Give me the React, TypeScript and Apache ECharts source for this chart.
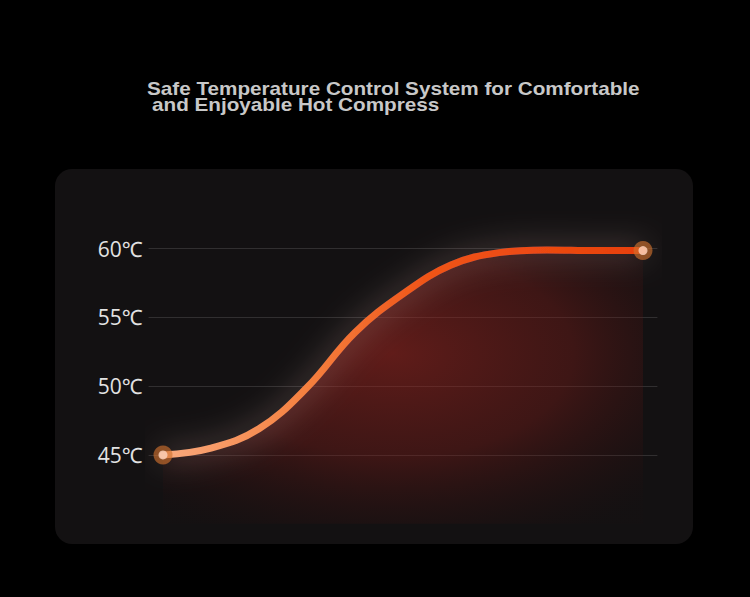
import React, { useEffect, useRef } from "react";
import * as echarts from "echarts";

const titleLines = [
  "Safe Temperature Control System for Comfortable",
  "and Enjoyable Hot Compress",
];
const timePoints = [0, 1, 2, 3, 4, 5, 6, 7, 8, 9, 10];
const temperatures = [45, 45.5, 46.9, 49.9, 53.9, 56.7, 58.8, 59.7, 59.9, 59.85, 59.85];
const yTicks = [45, 50, 55, 60];

export default function App() {
  const ref = useRef<HTMLDivElement>(null);
  useEffect(() => {
    if (!ref.current) return;
    const chart = echarts.init(ref.current, null, { renderer: "svg" });
    const lineData = timePoints.map((t, i) => [t, temperatures[i]]);
    const last = timePoints.length - 1;
    const ends = [
      [timePoints[0], temperatures[0]],
      [timePoints[last], temperatures[last]],
    ];
    chart.setOption({
      animation: false,
      backgroundColor: "#000000",
      graphic: [
        {
          type: "rect",
          shape: { x: 55, y: 169, width: 638, height: 375, r: 17 },
          style: { fill: "#131112" },
          z: -10,
          silent: true,
        },
        {
          type: "text",
          x: 147,
          y: 79.5,
          scaleX: 1.15,
          style: {
            text: titleLines[0],
            fill: "#c8c8c8",
            font: "bold 18px 'Liberation Sans', Arial, sans-serif",
            verticalAlign: "top",
          },
        },
        {
          type: "text",
          x: 152,
          y: 95,
          scaleX: 1.15,
          style: {
            text: titleLines[1],
            fill: "#c8c8c8",
            font: "bold 18px 'Liberation Sans', Arial, sans-serif",
            verticalAlign: "top",
          },
        },
      ],
      grid: { left: 148.6, right: 92.6, top: 248.5, bottom: 73.2 },
      xAxis: {
        type: "value",
        min: -0.3,
        max: 10.3,
        show: false,
      },
      yAxis: {
        type: "value",
        min: 40,
        max: 60,
        interval: 5,
        axisLine: { show: false },
        axisTick: { show: false },
        axisLabel: {
          showMinLabel: false,
          margin: 6,
          color: "#e2e2e2",
          fontSize: 21,
          fontFamily: "'Open Sans', 'Noto Sans', sans-serif",
          formatter: (v: number) => (yTicks.includes(v) ? v + "℃" : ""),
        },
        splitLine: {
          showMinLine: false,
          lineStyle: { color: "rgba(255,255,255,0.13)", width: 1 },
        },
      },
      series: [
        {
          type: "line",
          data: lineData,
          smooth: 0.4,
          showSymbol: false,
          clip: false,
          lineStyle: {
            width: 7,
            cap: "round",
            join: "round",
            color: {
              type: "linear",
              x: 0,
              y: 0,
              x2: 1,
              y2: 0,
              colorStops: [
                { offset: 0, color: "#f9aa7e" },
                { offset: 0.3, color: "#f5803f" },
                { offset: 0.55, color: "#ef5418" },
                { offset: 1, color: "#e8400c" },
              ],
            },
            shadowColor: "rgba(255,205,195,0.5)",
            shadowBlur: 30,
          },
          areaStyle: {
            color: {
              type: "radial",
              x: 0.48,
              y: 0.38,
              r: 0.75,
              colorStops: [
                { offset: 0, color: "rgba(165,38,32,0.75)" },
                { offset: 0.5, color: "rgba(130,30,26,0.55)" },
                { offset: 1, color: "rgba(50,12,12,0.05)" },
              ],
            },
          },
          z: 2,
        },
        {
          type: "scatter",
          data: ends,
          symbolSize: 19,
          clip: false,
          itemStyle: { color: "rgba(208,112,46,0.8)" },
          z: 3,
        },
        {
          type: "scatter",
          data: ends,
          symbolSize: 9,
          clip: false,
          itemStyle: { color: "#fcd5bf" },
          z: 4,
        },
      ],
    });
    return () => chart.dispose();
  }, []);
  return (
    <div
      ref={ref}
      style={{ position: "fixed", left: 0, top: 0, width: 750, height: 597 }}
    />
  );
}
